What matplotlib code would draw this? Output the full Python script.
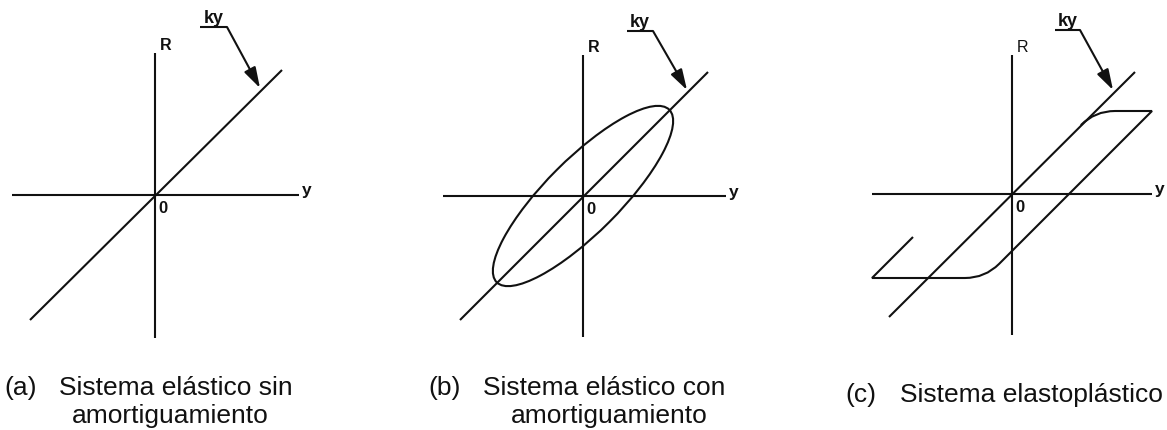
import matplotlib
matplotlib.use("Agg")
import matplotlib.pyplot as plt
from matplotlib.patches import Ellipse, PathPatch
from matplotlib.path import Path

plt.rcParams['font.family'] = ['Liberation Sans', 'DejaVu Sans']

W, H = 1167, 430

# R-y axes extents (left, right, bottom, top) for each system
axes_a = [-143, 144, -143, 142]
axes_b = [-140, 143, -141, 141]
axes_c = [-140, 140, -141, 139]

# elastic line R = k*y, end points
line_a_y = [-125, 127]
line_a_R = [-125, 125]
line_b_y = [-123, 125]
line_b_R = [-124, 124]
line_c_y = [-123, 123]
line_c_R = [-123, 122]

# damped loop: semi-axes and tilt
loop_a, loop_b, loop_angle = 122, 37, 45

# elastoplastic cycle
yield_R = [83, -84]
unload_offset = 57
cycle_y_start, cycle_y_end = -140, 140
cycle_R_start = -43
corner_round = 20

# ky arrow: underline start/end and arrow tip
ky_a = [(45, 168), (72, 168), (105, 107)]
ky_b = [(44, 165), (70, 165), (104, 106)]
ky_c = [(43, 164), (68, 164), (101, 104)]

captions = ['(a)', '(b)', '(c)']
caption_lines = [['Sistema elástico sin', 'amortiguamiento'],
                 ['Sistema elástico con', 'amortiguamiento'],
                 ['Sistema elastoplástico']]

LW = 1.5
INK = '#111111'

fig = plt.figure(figsize=(W / 100, H / 100), dpi=100)


def panel(ox, oy):
    # axes in pixel units, origin placed at (ox, oy) from top-left
    ax = fig.add_axes([(ox - 170) / W, (H - (oy + 160)) / H, 340 / W, 360 / H])
    ax.set_xlim(-170, 170)
    ax.set_ylim(-160, 200)
    ax.axis('off')
    return ax


def draw_frame(ax, ext, line_y, line_R, ky, r_bold=True):
    ax.plot([ext[0], ext[1]], [0, 0], color=INK, lw=LW, solid_capstyle='butt')
    ax.plot([0, 0], [ext[2], ext[3]], color=INK, lw=LW, solid_capstyle='butt')
    ax.plot(line_y, line_R, color=INK, lw=LW, solid_capstyle='butt')
    ax.text(5, ext[3], 'R', fontsize=11.5, fontweight='bold' if r_bold else 'normal',
            ha='left', va='bottom', color=INK)
    ax.text(ext[1] + 3, 4, 'y', fontsize=12.5, fontweight='bold', ha='left', va='center', color=INK)
    ax.text(3, -6, '0', fontsize=12, fontweight='bold', ha='left', va='top', color=INK)
    (x0, y0), (x1, y1), tip = ky
    ax.plot([x0, x1], [y0, y1], color=INK, lw=LW, solid_capstyle='butt')
    ax.annotate('', xy=tip, xytext=(x1, y1),
                arrowprops=dict(arrowstyle='-|>,head_length=1.25,head_width=0.38',
                                color=INK, lw=LW, shrinkA=0, shrinkB=0))
    ax.text((x0 + x1) / 2, y0 + 4, 'ky', fontsize=13, fontweight='bold',
            ha='center', va='baseline', color=INK)


ax1 = panel(155, 195)
draw_frame(ax1, axes_a, line_a_y, line_a_R, ky_a)

ax2 = panel(583, 196)
draw_frame(ax2, axes_b, line_b_y, line_b_R, ky_b)
ax2.add_patch(Ellipse((0, 0), 2 * loop_a, 2 * loop_b, angle=loop_angle,
                      fill=False, ec=INK, lw=LW))

ax3 = panel(1012, 194)
draw_frame(ax3, axes_c, line_c_y, line_c_R, ky_c, r_bold=False)
top, bot = yield_R
d = corner_round
s = d / 2 ** 0.5
lo_corner = bot + unload_offset
verts = [
    (cycle_R_start - bot + cycle_y_start, cycle_R_start),
    (cycle_y_start, bot),
    (lo_corner - d, bot),
    (lo_corner, bot), (lo_corner + s, bot + s),
    (cycle_y_end, cycle_y_end - unload_offset),
    (top + d, top),
    (top, top), (top - s, top - s),
]
codes = [Path.MOVETO, Path.LINETO, Path.LINETO, Path.CURVE3, Path.CURVE3,
         Path.LINETO, Path.LINETO, Path.CURVE3, Path.CURVE3]
ax3.add_patch(PathPatch(Path(verts, codes), fill=False, ec=INK, lw=LW,
                        joinstyle='miter', capstyle='butt'))

# captions below each diagram
cap_x = [(4, 59, 72), (428, 483, 511), (845, 900, None)]
cap_base = [(395, 423), (395, 423), (402, None)]
for lab, lines, xs, ys in zip(captions, caption_lines, cap_x, cap_base):
    fig.text(xs[0] / W, 1 - ys[0] / H, lab, fontsize=19, va='baseline', ha='left', color=INK)
    fig.text(xs[1] / W, 1 - ys[0] / H, lines[0], fontsize=19, va='baseline', ha='left', color=INK)
    if len(lines) > 1:
        fig.text(xs[2] / W, 1 - ys[1] / H, lines[1], fontsize=19, va='baseline', ha='left', color=INK)

fig.savefig('out.png', dpi=100, facecolor='white')
